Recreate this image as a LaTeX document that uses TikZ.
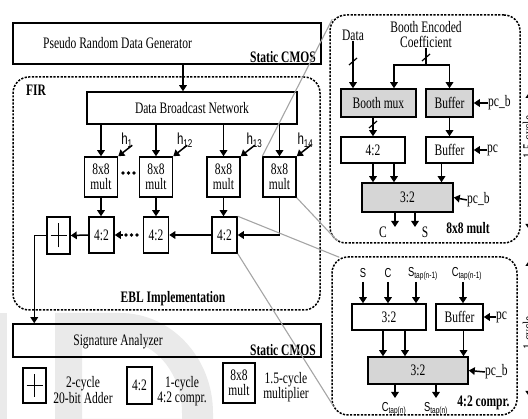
\documentclass[tikz,border=0pt]{standalone}
\usepackage{fontspec}
\setmainfont[FakeStretch=0.72]{Liberation Serif}
\newfontfamily\lsans[FakeStretch=0.72]{Liberation Sans}
\usepackage{xcolor}
\usepackage{tikz}
\usetikzlibrary{arrows.meta}

\definecolor{shade}{RGB}{214,214,214}
\definecolor{zoomline}{RGB}{165,165,165}
\definecolor{wmark}{RGB}{234,234,234}

\tikzset{
  blk/.style={draw=black,line width=1.5pt},
  gblk/.style={blk,fill=shade},
  frame/.style={draw=black,line width=1.5pt,dash pattern=on 2.2pt off 1.4pt,rounded corners=16pt},
  arr/.style={line width=1.5pt,-{Triangle[length=6pt,width=7.5pt]}},
  darr/.style={line width=1.2pt,{Triangle[length=6pt,width=8pt]}-{Triangle[length=6pt,width=8pt]}},
  zoom/.style={draw=zoomline,line width=1.1pt},
  bus/.style={line width=1.2pt},
  bfl/.style={font=\fontsize{16}{15.5}\selectfont\bfseries},
  hl/.style={font=\lsans\fontsize{16}{16}\selectfont},
  sl/.style={font=\lsans\fontsize{13}{13}\selectfont}
}

\begin{document}
\begin{tikzpicture}[x=1pt,y=1pt]
\tikzstyle{every node}+=[inner sep=0pt,align=center,font=\fontsize{16}{15.5}\selectfont]
\useasboundingbox (0,0) rectangle (528,-419);
% watermark
\fill [wmark] (0,-313) rectangle (7,-419);
\fill [wmark,even odd rule] (55,-313) -- (120,-313) arc[start angle=90,end angle=0,x radius=93,y radius=100] -- (213,-419) -- (55,-419) -- cycle
  (82,-340) -- (120,-340) arc[start angle=90,end angle=0,x radius=62,y radius=73] -- (182,-419) -- (82,-419) -- cycle;

% left part
\node [blk,minimum width=308,minimum height=41] (gen) at (167,-43.5) {};
\node (gentxt) at (117.5,-43) {Pseudo Random Data Generator};
\node [bfl,anchor=east] (gencmos) at (316,-57) {Static CMOS};
\node [frame,minimum width=307,minimum height=233] (fir) at (166.5,-193.5) {};
\node [bfl] (firlbl) at (36,-90) {FIR};
\node [blk,minimum width=210,minimum height=32] (dbn) at (192,-108) {Data Broadcast Network};
\draw [arr] ([xshift=16]gen.south) -- ([xshift=16]gen.south |- dbn.north);

\node [blk,minimum width=33,minimum height=40] (m1) at (101,-177) {8x8\\mult};
\node [blk,minimum width=33,minimum height=40] (m2) at (156,-177) {8x8\\mult};
\node [blk,minimum width=33,minimum height=40] (m3) at (223.5,-177) {8x8\\mult};
\node [blk,minimum width=33,minimum height=40] (m4) at (279.5,-177) {8x8\\mult};
\node [hl] (h1) at (127,-140) {h\textsubscript{1}};
\node [hl] (h12) at (185,-140) {h\textsubscript{12}};
\node [hl] (h13) at (254.5,-140) {h\textsubscript{13}};
\node [hl] (h14) at (305.5,-140) {h\textsubscript{14}};
\draw [arr] (m1 |- dbn.south) -- (m1.north);
\draw [arr] (m2 |- dbn.south) -- (m2.north);
\draw [arr] (m3 |- dbn.south) -- (m3.north);
\draw [arr] (m4 |- dbn.south) -- (m4.north);
\draw [arr] ([shift={(14,11)}]m1.north east) -- (m1.north east);
\draw [arr] ([shift={(14,11)}]m2.north east) -- (m2.north east);
\draw [arr] ([shift={(14,11)}]m3.north east) -- (m3.north east);
\draw [arr] ([shift={(14,11)}]m4.north east) -- (m4.north east);
\fill (123,-173) circle (1.8) (128.5,-173) circle (1.8) (134,-173) circle (1.8);

\node [blk,minimum width=23,minimum height=37] (add) at (58.5,-235.5) {};
\draw [line width=1.5pt] ([xshift=-8]add.center) -- ([xshift=8]add.center) ([yshift=-12]add.center) -- ([yshift=12]add.center);
\node [blk,minimum width=25,minimum height=36] (c1) at (101.5,-235) {4:2};
\node [blk,minimum width=25,minimum height=36] (c2) at (156,-235) {4:2};
\node [blk,minimum width=25,minimum height=36] (c3) at (224.5,-235) {4:2};
\draw [arr] (m1.south) -- (m1.south |- c1.north);
\draw [arr] (m2.south) -- (m2.south |- c2.north);
\draw [arr] (m3.south) -- (m3.south |- c3.north);
\draw [arr] (m4.south) |- (c3.east);
\draw [arr] (c3.west) -- (c2.east);
\fill (126,-235) circle (1.8) (131.5,-235) circle (1.8) (137,-235) circle (1.8);
\coordinate (dl) at (123,-235);
\draw [arr] (dl) -- (c1.east);
\draw [arr] (c1.west) -- (add.east);
\node [bfl] (ebl) at (173,-299) {EBL Implementation};

\node [blk,minimum width=308,minimum height=33] (sig) at (167,-340.5) {};
\node (sigtxt) at (118,-342) {Signature Analyzer};
\node [bfl,anchor=east] (sigcmos) at (316,-350) {Static CMOS};
\draw [arr] (add.west) -| ([xshift=22]sig.north west);

% legend
\node [blk,minimum width=23,minimum height=35] (ladd) at (34.5,-385.5) {};
\draw [line width=1.5pt] ([xshift=-8]ladd.center) -- ([xshift=8]ladd.center) ([yshift=-11.5]ladd.center) -- ([yshift=11.5]ladd.center);
\node (laddtxt) at (83,-390) {2-cycle\\20-bit Adder};
\node [blk,minimum width=25,minimum height=37] (l42) at (139.5,-385.5) {4:2};
\node (l42txt) at (182,-391) {1-cycle\\4:2 compr.};
\node [blk,minimum width=32,minimum height=40] (lmul) at (239,-383) {8x8\\mult};
\node (lmultxt) at (286,-387) {1.5-cycle\\multiplier};

% 8x8 mult detail
\node [frame,minimum width=190,minimum height=228] (up) at (425,-129) {};
\node (datalbl) at (353,-35) {Data};
\node (coef) at (426,-34.5) {Booth Encoded\\Coefficient};
\node [gblk,minimum width=75,minimum height=28] (bmux) at (378.5,-103) {Booth mux};
\node [gblk,minimum width=47,minimum height=28] (buf1) at (449.5,-103) {Buffer};
\node [blk,minimum width=64,minimum height=26] (bb42) at (373,-150) {4:2};
\node [blk,minimum width=47,minimum height=26] (buf2) at (449.5,-150) {Buffer};
\node [gblk,minimum width=91,minimum height=29] (b32) at (407.5,-197.5) {3:2};
\node [anchor=west] (pcb1) at (488,-103) {pc\_b};
\node [anchor=west] (pc1) at (487,-150) {pc};
\node [anchor=west] (pcb2) at (467,-200) {pc\_b};
\coordinate (cf) at (426,-65);
\draw [arr] (datalbl.south) -- (datalbl.south |- bmux.north);
\draw [bus] (349,-65) -- (357,-58);
\draw [line width=1.5pt] (coef.south) -- (cf);
\draw [bus] (422,-61) -- (430,-54);
\draw [arr] (cf) -| ([xshift=15.5]bmux.north);
\draw [arr] (cf) -| (buf1.north);
\draw [arr] (bmux.south -| bb42.north) -- (bb42.north);
\draw [bus] (369,-128) -- (377,-121);
\draw [arr] (buf1.south) -- (buf2.north);
\draw [arr] (pcb1.west) -- (buf1.east);
\draw [arr] (pc1.west) -- (buf2.east);
\draw [arr] (pcb2.west) -- (b32.east);
\draw [arr] (bb42.south) -- (bb42.south |- b32.north);
\draw [arr] ([xshift=21]bb42.south) -- ([xshift=21]bb42.south |- b32.north);
\draw [arr] ([xshift=-8]buf2.south) -- ([xshift=-8]buf2.south |- b32.north);
\coordinate (ocup) at (395,-227);
\coordinate (osup) at (415,-227);
\draw [arr] (b32.south -| ocup) -- (ocup);
\draw [arr] (b32.south -| osup) -- (osup);
\node (cup) at (383,-232) {C};
\node (sup) at (425,-232) {S};
\node [bfl] (upname) at (468,-228) {8x8 mult};

% 4:2 compressor detail
\node [frame,minimum width=185,minimum height=158] (lo) at (424.5,-336) {};
\node [sl] (ls) at (363,-273) {S};
\node [sl] (lc) at (388,-273) {C};
\node [sl] (lst) at (423,-274) {S\textsubscript{tap(n-1)}};
\node [sl] (lct) at (467,-274) {C\textsubscript{tap(n-1)}};
\node [blk,minimum width=74,minimum height=26] (l32) at (389,-317) {3:2};
\node [blk,minimum width=47,minimum height=26] (lbuf) at (459.5,-317) {Buffer};
\node [gblk,minimum width=100,minimum height=27] (g32) at (418,-370.5) {3:2};
\node [anchor=west] (pc2) at (496,-317) {pc};
\node [anchor=west] (pcb3) at (485,-372) {pc\_b};
\draw [arr] ([yshift=-4]ls.south) -- (ls.south |- l32.north);
\draw [arr] ([yshift=-4]lc.south) -- (lc.south |- l32.north);
\draw [arr] ([xshift=-7,yshift=-1]lst.south) -- ([xshift=-7]lst.south |- l32.north);
\draw [arr] ([xshift=-4,yshift=-1]lct.south) -- ([xshift=-4]lct.south |- lbuf.north);
\draw [arr] (pc2.west) -- (lbuf.east);
\draw [arr] (pcb3.west) -- (g32.east);
\draw [arr] ([xshift=-6]l32.south) -- ([xshift=-6]l32.south |- g32.north);
\draw [arr] ([xshift=16]l32.south) -- ([xshift=16]l32.south |- g32.north);
\draw [arr] ([xshift=4]lbuf.south) -- ([xshift=4]lbuf.south |- g32.north);
\coordinate (octap) at (395,-398);
\coordinate (ostap) at (436,-398);
\draw [arr] (g32.south -| octap) -- (octap);
\draw [arr] (g32.south -| ostap) -- (ostap);
\node [sl] (lctn) at (394,-409) {C\textsubscript{tap(n)}};
\node [sl] (lstn) at (436,-409) {S\textsubscript{tap(n)}};
\node [bfl] (loname) at (483.5,-403) {4:2 compr.};

% zoom lines
\draw [zoom] (m4.north west) -- ([shift={(3,-5)}]up.north west);
\draw [zoom] (m4.south east) -- ([shift={(8,3)}]up.south west);
\draw [zoom] (c3.north east) -- ([shift={(8,-1)}]lo.north west);
\draw [zoom] (c3.south east) -- ([shift={(2,10)}]lo.south west);

% cycle marks at the edge
\coordinate (cyc1t) at (529.5,-92);
\coordinate (cyc1b) at (529.5,-230);
\coordinate (cyc2t) at (529.5,-260);
\coordinate (cyc2b) at (529.5,-397);
\draw [darr] (cyc1b) -- (cyc1t);
\draw [darr] (cyc2b) -- (cyc2t);
\node [rotate=90,anchor=north] (cyc1) at (522.5,-137) {1.5-cycle};
\node [rotate=90,anchor=north] (cyc2) at (522.5,-333) {1-cycle};
\end{tikzpicture}
\end{document}
